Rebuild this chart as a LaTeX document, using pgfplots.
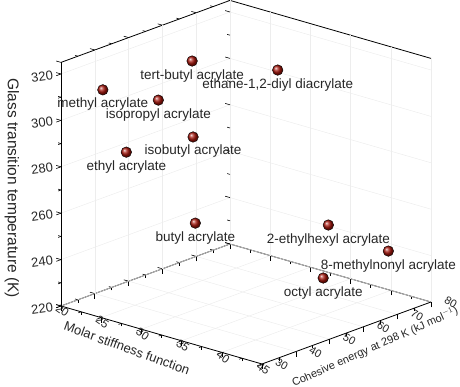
\documentclass[border=0pt]{standalone}
\usepackage{fontspec}
\setmainfont{Liberation Sans}
\usepackage{pgfplots}
\pgfplotsset{compat=1.18}
\usepackage{pgfplotstable}

\definecolor{ballred}{RGB}{165,22,12}

% molar stiffness function, cohesive energy (kJ/mol), Tg (K)
\pgfplotstableread[col sep=comma, row sep=\\]{
x,y,z,name\\
23.1,35,313.6,methyl acrylate\\
25.6,36,288.7,ethyl acrylate\\
27.9,40,311.3,isopropyl acrylate\\
27.9,50,322.8,tert-butyl acrylate\\
29.7,46,294.0,isobutyl acrylate\\
30.4,45,258.1,butyl acrylate\\
33.5,62,318.1,{ethane-1,2-diyl diacrylate}\\
39.8,62,257.6,2-ethylhexyl acrylate\\
43.9,70,246.2,8-methylnonyl acrylate\\
42.1,55,240.8,octyl acrylate\\
}\acrylates

\begin{document}
\begin{tikzpicture}
\begin{axis}[
  x={(8.04pt,-2.32pt)}, y={(3.38pt,1.24pt)}, z={(0pt,2.32pt)},
  xmin=20, xmax=45, ymin=30, ymax=80, zmin=220, zmax=325,
  xtick={20,25,...,45}, ytick={30,40,...,80}, ztick={220,240,...,320},
  minor tick num=1,
  tick align=outside,
  tick pos=left,
  major tick length=5pt, minor tick length=3pt,
  tick style={black, line width=0.6pt},
  grid=major,
  major grid style={black!7, line width=0.5pt},
  axis line style={black, line width=0.8pt},
  /pgf/number format/assume math mode=true,
  ticklabel style={text=black!85},
  xticklabel style={font=\fontsize{11.5}{11.5}\selectfont,
    anchor=center, xshift=6pt, yshift=-3pt, rotate=-35},
  yticklabel style={font=\fontsize{11}{11}\selectfont,
    anchor=center, xshift=15pt, yshift=1pt, rotate=-30},
  zticklabel style={font=\fontsize{13}{13}\selectfont, rotate=8},
  clip=false,
]
\addplot3[
  only marks, mark=ball, mark size=5.3pt,
  mark options={ball color=ballred},
  point meta=explicit symbolic,
  nodes near coords,
  nodes near coords align={anchor=base},
  nodes near coords style={yshift=-18pt, inner sep=0pt,
    font=\fontsize{13.5}{14}\selectfont, text=black!85},
] table[x=x, y=y, z=z, meta=name, col sep=comma] {\acrylates};

\coordinate (O) at (axis cs:20,30,220);
\end{axis}
\node[rotate=-90, font=\fontsize{15.5}{15.5}\selectfont, text=black!85]
  at ([shift={(-49pt,118pt)}]O) {Glass transition temperature (K)};
\node[rotate=-20, font=\fontsize{13}{13}\selectfont, text=black!85]
  at ([shift={(66pt,-42pt)}]O) {Molar stiffness function};
\node[rotate=24, font=\fontsize{11}{11}\selectfont, text=black!85]
  at ([shift={(314pt,-41pt)}]O) {Cohesive energy at 298 K (kJ mol$^{-1}$)};
\pgfresetboundingbox
\useasboundingbox (O) ++(-61pt,306pt) rectangle ++(460pt,-387pt);
\end{tikzpicture}
\end{document}
